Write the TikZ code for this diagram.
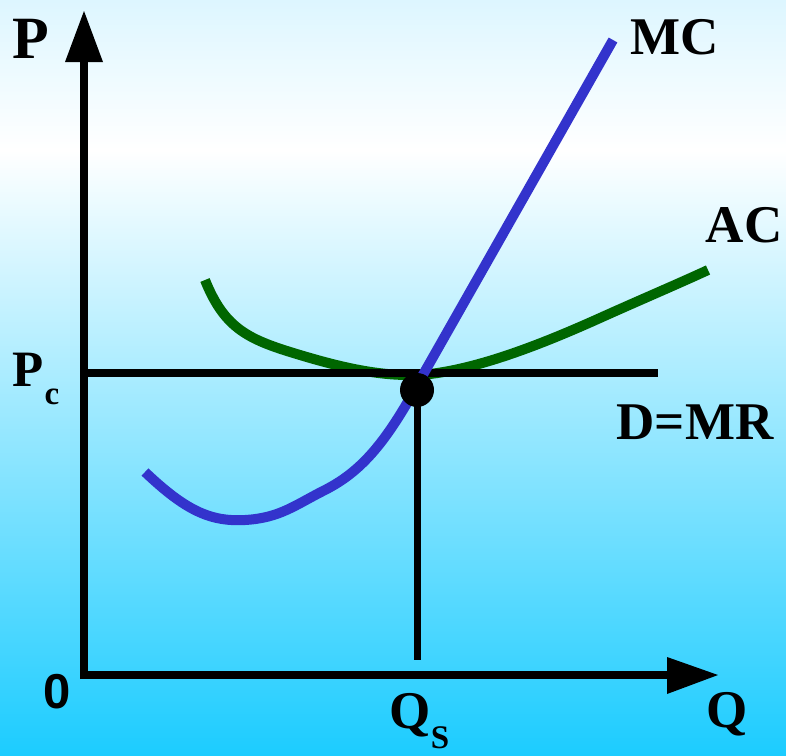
\documentclass[tikz,border=0pt]{standalone}
\usepackage{fontspec}
\setmainfont{Liberation Serif}
\newfontfamily\zerofont{Liberation Sans}
\definecolor{mcblue}{HTML}{3333CC}
\definecolor{acgreen}{HTML}{006600}
\definecolor{bgtop}{HTML}{DDF6FF}
\definecolor{bgbot}{HTML}{1CCCFF}
\begin{document}
\begin{tikzpicture}[x=1pt,y=-1pt,
  lbl/.style={font=\bfseries\fontsize{53}{53}\selectfont, inner sep=0pt},
  sub/.style={font=\bfseries\fontsize{33}{33}\selectfont, inner sep=0pt},
  axisline/.style={line width=8pt},
  curve/.style={line width=10pt}]
\useasboundingbox (0,0) rectangle (786,755);
\shade[top color=bgtop, bottom color=white] (0,0) rectangle (786,150);
\shade[top color=white, bottom color=bgbot] (0,150) rectangle (786,755);
% axes
\coordinate (O) at (84,675);
\coordinate (Ytip) at (84,11);
\coordinate (Xtip) at (718,675);
\draw[axisline] (84,679) -- (84,60);
\fill (Ytip) -- (65,62) -- (103,62) -- cycle;
\draw[axisline] (80,675) -- (669,675);
\fill (Xtip) -- (667,657) -- (667,694) -- cycle;
% price line
\coordinate (Pl) at (84,373);
\coordinate (Pr) at (658,373);
% AC curve
\draw[curve, acgreen] (205,280) .. controls (225,330) and (250,340) .. (300,355)
  .. controls (350,370) and (390,378) .. (430,374)
  .. controls (480,368) and (540,345) .. (600,318)
  .. controls (640,300) and (680,283) .. (708,270);
\draw[axisline] (Pl) -- (Pr);
% MC curve
\draw[curve, mcblue] (145,472) .. controls (185,510) and (210,522) .. (245,520)
  .. controls (280,518) and (295,505) .. (325,490)
  .. controls (360,472) and (385,445) .. (420,380)
  -- (613,40);
% Qs line and dot
\node[circle, fill=black, minimum size=34pt, inner sep=0pt] (E) at (417,390) {};
\coordinate (Qb) at (417,660);
\draw[line width=7pt] (E.center) -- (Qb);
% labels
\node[lbl, font=\bfseries\fontsize{60}{60}\selectfont] (P) at (31,39) {P};
\node[lbl, font=\bfseries\fontsize{51}{51}\selectfont] (Pc) at (28,370) {P};
\node[sub] (Pcs) at (52,397) {c};
\node[inner sep=0pt, font=\zerofont\bfseries\fontsize{49}{49}\selectfont] (zero) at (57,692) {0};
\node[lbl] (Qs) at (410,715) {Q};
\node[sub] (Qss) at (440,738) {S};
\node[lbl] (Q) at (727,714) {Q};
\node[lbl] (MC) at (675,37) {MC};
\node[lbl] (AC) at (744,225) {AC};
\node[lbl] (DMR) at (695,422) {D=MR};
\end{tikzpicture}
\end{document}
